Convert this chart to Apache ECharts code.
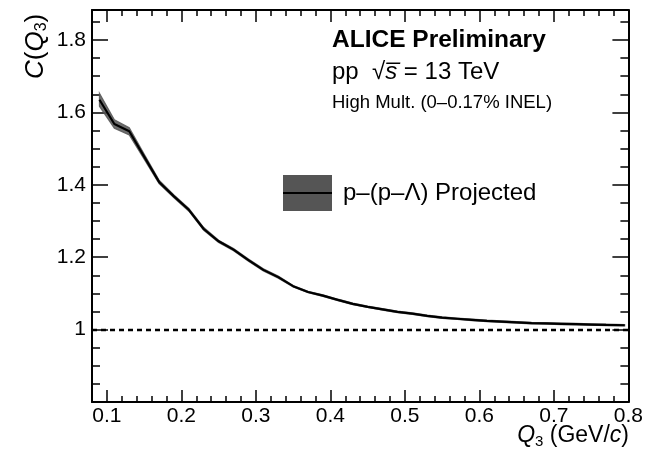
<!DOCTYPE html>
<html><head><meta charset="utf-8">
<script src="https://cdn.jsdelivr.net/npm/echarts@6/dist/echarts.min.js"></script>
<style>html,body{margin:0;padding:0;background:#fff}#c{width:646px;height:456px}</style>
</head><body><div id="c"></div>
<script>
const q3 = [0.09,0.11,0.13,0.15,0.17,0.19,0.21,0.23,0.25,0.27,0.29,0.31,0.33,0.35,0.37,0.39,0.41,0.43,0.45,0.47,0.49,0.51,0.53,0.55,0.57,0.59,0.61,0.63,0.65,0.67,0.69,0.71,0.73,0.75,0.77,0.795];
const central = [1.635,1.568,1.548,1.478,1.408,1.368,1.331,1.278,1.244,1.221,1.192,1.165,1.145,1.120,1.104,1.094,1.082,1.071,1.063,1.056,1.049,1.044,1.038,1.033,1.030,1.027,1.024,1.022,1.020,1.018,1.017,1.016,1.015,1.014,1.013,1.012];
const halfErr = [0.018,0.012,0.010,0.007,0.005,0.004,0.004,0.004,0.003,0.003,0.003,0.003,0.003,0.002,0.002,0.002,0.002,0.002,0.002,0.002,0.002,0.002,0.002,0.002,0.002,0.002,0.002,0.002,0.002,0.002,0.002,0.002,0.002,0.002,0.002,0.002];
const refLevel = [1];
const xMajorTicks = [0.1,0.2,0.3,0.4,0.5,0.6,0.7,0.8];
const xTickLabels = ['0.1','0.2','0.3','0.4','0.5','0.6','0.7','0.8'];
const xMinorTicks = [0.08,0.12,0.14,0.16,0.18,0.22,0.24,0.26,0.28,0.32,0.34,0.36,0.38,0.42,0.44,0.46,0.48,0.52,0.54,0.56,0.58,0.62,0.64,0.66,0.68,0.72,0.74,0.76,0.78];
const yMajorTicks = [1.0,1.2,1.4,1.6,1.8];
const yTickLabels = ['1','1.2','1.4','1.6','1.8'];
const yMinorTicks = [0.85,0.9,0.95,1.05,1.1,1.15,1.25,1.3,1.35,1.45,1.5,1.55,1.65,1.7,1.75,1.85];
const seriesName = 'p\u2013(p\u2013\u039B) Projected';

const FONT = '"Liberation Sans", Arial, sans-serif';
const X_MIN = 0.08, X_MAX = 0.8, Y_MIN = 0.8, Y_MAX = 1.883;
function lab(ticks, labels){ return v => { const i = ticks.findIndex(t => Math.abs(t - v) < 1e-9); return i >= 0 ? labels[i] : ''; }; }
function xAx(pos, ticks, len, showLine, showLabel){
  return {type:'value', min:X_MIN, max:X_MAX, position:pos,
    axisLine:{show:showLine, onZero:false, lineStyle:{color:'#000', width:2}},
    axisTick:{show:true, inside:true, length:len, customValues:ticks, lineStyle:{color:'#000', width:1.5}},
    axisLabel:{show:showLabel, customValues:xMajorTicks, formatter:lab(xMajorTicks,xTickLabels), fontFamily:FONT, fontSize:21, color:'#000', margin:4},
    splitLine:{show:false}};
}
function yAx(pos, ticks, len, showLine, showLabel){
  return {type:'value', min:Y_MIN, max:Y_MAX, position:pos,
    axisLine:{show:showLine, onZero:false, lineStyle:{color:'#000', width:2}},
    axisTick:{show:true, inside:true, length:len, customValues:ticks, lineStyle:{color:'#000', width:1.5}},
    axisLabel:{show:showLabel, customValues:yMajorTicks, formatter:lab(yMajorTicks,yTickLabels), fontFamily:FONT, fontSize:21, color:'#000', margin:6},
    splitLine:{show:false}};
}
const chart = echarts.init(document.getElementById('c'), null, {renderer:'canvas'});
chart.setOption({
  animation:false,
  backgroundColor:'#fff',
  grid:{left:92, right:17, top:10, bottom:54, containLabel:false},
  xAxis:[xAx('bottom',xMajorTicks,12,true,true), xAx('bottom',xMinorTicks,6,false,false), xAx('top',xMajorTicks,12,true,false), xAx('top',xMinorTicks,6,false,false)],
  yAxis:[yAx('left',yMajorTicks,16,true,true), yAx('left',yMinorTicks,8,false,false), yAx('right',yMajorTicks,16,true,false), yAx('right',yMinorTicks,8,false,false)],
  legend:{show:true, data:[seriesName], left:283, top:175, padding:0, icon:'rect', itemWidth:49, itemHeight:36,
    itemStyle:{color:'#555'}, textStyle:{fontFamily:FONT, fontSize:24, color:'#000', padding:[0,0,0,6]}},
  series:[
    {type:'custom', silent:true, z:2, clip:true, encode:{x:0, y:1},
      data:q3.map((x,i)=>[x, central[i]]),
      renderItem:(params, api)=>{
        if (params.dataIndex !== 0) return null;
        const pts = [];
        for (let i = 0; i < q3.length; i++) pts.push(api.coord([q3[i], central[i] + halfErr[i]]));
        for (let i = q3.length - 1; i >= 0; i--) pts.push(api.coord([q3[i], central[i] - halfErr[i]]));
        return {type:'polygon', shape:{points:pts}, style:{fill:'#555', opacity:0.85, stroke:'#555', lineWidth:1.2}};
      }},
    {name:seriesName, type:'line', symbol:'none', data:q3.map((x,i)=>[x, central[i]]), lineStyle:{color:'#000', width:2.2}, itemStyle:{color:'#000'}, z:3,
      markLine:{silent:true, symbol:'none', label:{show:false}, lineStyle:{color:'#000', width:2.4, type:[5,4]}, data:refLevel.map(v=>({yAxis:v}))}}
  ],
  graphic:[
    {type:'line', shape:{x1:283, y1:193, x2:332, y2:193}, style:{stroke:'#000', lineWidth:2}, z:100},
    {type:'text', left:332, top:28, style:{text:'ALICE Preliminary', font:'bold 24.5px "Liberation Sans"', fill:'#000'}},
    {type:'text', left:332, top:60, style:{text:'pp  \u221A{i|s\u0305} = 13 TeV', font:'24px "Liberation Sans"', fill:'#000', rich:{i:{fontStyle:'italic', fontFamily:FONT, fontSize:24}}}},
    {type:'text', left:332, top:93, style:{text:'High Mult. (0\u20130.17% INEL)', font:'18.5px "Liberation Sans"', fill:'#000'}},
    {type:'text', right:17, top:424, style:{text:'{i|Q}{s|3} (GeV/{i|c})', font:'23px "Liberation Sans"', fill:'#000', rich:{i:{fontStyle:'italic', fontFamily:FONT, fontSize:23}, s:{fontFamily:FONT, fontSize:15, padding:[12,0,0,0]}}}},
    {type:'text', x:21, y:79, rotation:Math.PI/2, style:{text:'{i|C}({i|Q}{s|3})', font:'26px "Liberation Sans"', fill:'#000', align:'left', verticalAlign:'top', rich:{i:{fontStyle:'italic', fontFamily:FONT, fontSize:26}, s:{fontFamily:FONT, fontSize:16, padding:[13,0,0,0]}}}}
  ]
});
</script></body></html>
